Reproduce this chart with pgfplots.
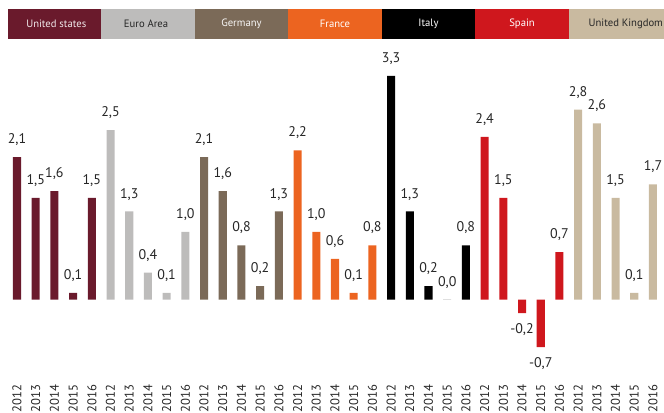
\documentclass[border=0pt]{standalone}
\usepackage{pgfplots}
\usepackage{pgfplotstable}
\pgfplotsset{compat=1.18}
\usepackage{fontspec}
\setmainfont{PT Sans}

\definecolor{cUS}{HTML}{6A1A2C}
\definecolor{cEU}{HTML}{BDBCBB}
\definecolor{cDE}{HTML}{7B6A58}
\definecolor{cFR}{HTML}{EC6420}
\definecolor{cIT}{HTML}{000000}
\definecolor{cES}{HTML}{CF171D}
\definecolor{cUK}{HTML}{C9BAA0}

% x = position (group*5 + year index), y = growth in %
\pgfplotstableread{
x y
0 2.1
1 1.5
2 1.6
3 0.1
4 1.5
}\dataUS
\pgfplotstableread{
x y
5 2.5
6 1.3
7 0.4
8 0.1
9 1.0
}\dataEU
\pgfplotstableread{
x y
10 2.1
11 1.6
12 0.8
13 0.2
14 1.3
}\dataDE
\pgfplotstableread{
x y
15 2.2
16 1.0
17 0.6
18 0.1
19 0.8
}\dataFR
\pgfplotstableread{
x y
20 3.3
21 1.3
22 0.2
23 0.0
24 0.8
}\dataIT
\pgfplotstableread{
x y
25 2.4
26 1.5
27 -0.2
28 -0.7
29 0.7
}\dataES
\pgfplotstableread{
x y
30 2.8
31 2.6
32 1.5
33 0.1
34 1.7
}\dataUK

\begin{document}
\begin{tikzpicture}
\begin{axis}[
  scale only axis,
  width=498pt,
  height=283pt,
  xmin=-0.909, xmax=34.59,
  ymin=-1.145, ymax=4.418,
  clip=false,
  axis line style={draw=none},
  tick style={draw=none},
  ytick=\empty,
  ybar,
  bar width=0.43,
  bar shift=0pt,
  xtick={0,...,34},
  xticklabels={2012,2013,2014,2015,2016,2012,2013,2014,2015,2016,2012,2013,2014,2015,2016,2012,2013,2014,2015,2016,2012,2013,2014,2015,2016,2012,2013,2014,2015,2016,2012,2013,2014,2015,2016},
  xticklabel style={rotate=90, anchor=east, inner sep=1pt, font=\fontsize{9.5}{11}\selectfont, text=black!85},
  nodes near coords,
  visualization depends on={y \as \rawy},
  every node near coord/.append style={font=\fontsize{10.5}{12}\selectfont, text=black!85,
    yshift={ifthenelse(\rawy<0,-4,5)}},
  /pgf/number format/assume math mode=true,
  /pgf/number format/use comma,
  /pgf/number format/fixed,
  /pgf/number format/fixed zerofill,
  /pgf/number format/precision=1,
]
\addplot[fill=cUS, draw=none] table[x=x,y=y] {\dataUS};
\addplot[fill=cEU, draw=none] table[x=x,y=y] {\dataEU};
\addplot[fill=cDE, draw=none] table[x=x,y=y] {\dataDE};
\addplot[fill=cFR, draw=none] table[x=x,y=y] {\dataFR};
\addplot[fill=cIT, draw=none] table[x=x,y=y] {\dataIT};
\addplot[fill=cES, draw=none] table[x=x,y=y] {\dataES};
\addplot[fill=cUK, draw=none] table[x=x,y=y] {\dataUK};

% header boxes
\fill[cUS] (axis cs:-0.5,3.85) rectangle (axis cs:4.5,4.29);
\fill[cEU] (axis cs:4.5,3.85) rectangle (axis cs:9.5,4.29);
\fill[cDE] (axis cs:9.5,3.85) rectangle (axis cs:14.5,4.29);
\fill[cFR] (axis cs:14.5,3.85) rectangle (axis cs:19.5,4.29);
\fill[cIT] (axis cs:19.5,3.85) rectangle (axis cs:24.5,4.29);
\fill[cES] (axis cs:24.5,3.85) rectangle (axis cs:29.5,4.29);
\fill[cUK] (axis cs:29.5,3.85) rectangle (axis cs:34.7,4.29);
\begin{scope}[every node/.style={font=\fontsize{8}{9.5}\selectfont}]
\node[text=white!90!cUS] at (axis cs:2.1,4.07) {United states};
\node[text=black!85] at (axis cs:6.9,4.07) {Euro Area};
\node[text=white!94!cDE] at (axis cs:12,4.07) {Germany};
\node[text=white] at (axis cs:17,4.07) {France};
\node[text=white!94] at (axis cs:22,4.07) {Italy};
\node[text=white!94] at (axis cs:27,4.07) {Spain};
\node[text=black!85, anchor=west, inner sep=0pt] at (axis cs:30.55,4.07) {United Kingdom};
\end{scope}

\coordinate (sw) at (rel axis cs:0,0);
\coordinate (ne) at (rel axis cs:1,1);
\end{axis}
\pgfresetboundingbox
\path[use as bounding box] ([yshift=-26.75pt]sw) rectangle (ne);
\end{tikzpicture}
\end{document}
